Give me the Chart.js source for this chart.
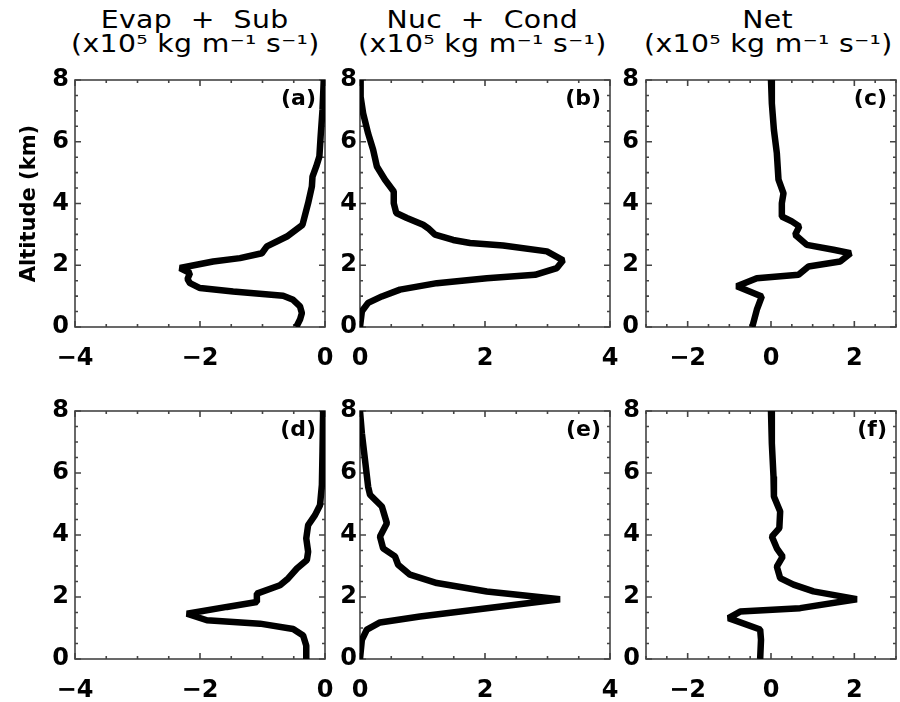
<!DOCTYPE html>
<html>
<head>
<meta charset="utf-8">
<script src="https://cdn.jsdelivr.net/npm/chart.js@4.4.0/dist/chart.umd.min.js"></script>
<style>
  html, body { margin: 0; padding: 0; background: #fff; }
  #fig { position: relative; width: 900px; height: 702px; overflow: hidden; background: #fff; }
  #fig canvas { position: absolute; left: 0; top: 0; }
  .ttl { position: absolute; top: 8px; width: 340px; text-align: center;
         font-family: "DejaVu Sans", sans-serif; font-size: 24px; line-height: 24px;
         color: #000; white-space: pre; }
  .ttl span { display: inline-block; transform: scaleX(1.18); letter-spacing: 0.3px; }
</style>
</head>
<body>
<div id="fig">
  <div class="ttl" style="left:25px"><span>Evap  +  Sub</span><br><span>(x10⁵ kg m⁻¹ s⁻¹)</span></div>
  <div class="ttl" style="left:312px"><span>Nuc  +  Cond</span><br><span>(x10⁵ kg m⁻¹ s⁻¹)</span></div>
  <div class="ttl" style="left:598px"><span>Net</span><br><span>(x10⁵ kg m⁻¹ s⁻¹)</span></div>
  <canvas id="pa" width="900" height="702"></canvas>
  <canvas id="pb" width="900" height="702"></canvas>
  <canvas id="pc" width="900" height="702"></canvas>
  <canvas id="pd" width="900" height="702"></canvas>
  <canvas id="pe" width="900" height="702"></canvas>
  <canvas id="pf" width="900" height="702"></canvas>
</div>
<script>
// Vertical profiles: altitude (km) and rate (x10^5 kg m^-1 s^-1)

// (a) evaporation + sublimation, case 1
const altA = [8, 7.03, 6.17, 5.52, 5.2, 4.87, 4.55, 4.01, 3.31, 2.93, 2.61, 2.39, 2.23, 2.12, 1.91, 1.75, 1.55, 1.42, 1.26, 1.15, 1.01, 0.88, 0.67, 0.45, 0.24, 0];
const evapSubA = [-0.02, -0.04, -0.07, -0.09, -0.14, -0.2, -0.21, -0.27, -0.36, -0.61, -0.93, -1.01, -1.36, -1.79, -2.32, -2.16, -2.2, -2.16, -2.0, -1.47, -0.67, -0.51, -0.4, -0.37, -0.4, -0.46];

// (b) nucleation + condensation, case 1
const altB = [8, 7.46, 6.92, 6.27, 5.74, 5.2, 4.77, 4.39, 4.01, 3.69, 3.53, 3.31, 3.2, 2.99, 2.82, 2.72, 2.64, 2.45, 2.16, 1.91, 1.69, 1.58, 1.42, 1.21, 0.99, 0.78, 0.51, 0];
const nucCondB = [0, 0.01, 0.05, 0.13, 0.21, 0.27, 0.4, 0.54, 0.54, 0.58, 0.75, 1.01, 1.09, 1.2, 1.49, 1.76, 2.29, 2.99, 3.25, 3.15, 2.8, 2.03, 1.23, 0.64, 0.35, 0.13, 0.03, 0];

// (c) net, case 1
const altC = [8, 7.25, 6.38, 5.63, 4.77, 4.33, 4.01, 3.58, 3.42, 3.26, 2.99, 2.66, 2.5, 2.39, 2.12, 1.96, 1.69, 1.58, 1.32, 0.99, 0.56, 0];
const netC = [0, 0.02, 0.07, 0.14, 0.18, 0.3, 0.26, 0.26, 0.5, 0.68, 0.58, 0.86, 1.5, 1.91, 1.66, 0.9, 0.66, -0.34, -0.82, -0.22, -0.34, -0.45];

// (d) evaporation + sublimation, case 2
const altD = [8, 6.68, 5.61, 4.96, 4.64, 4.32, 3.89, 3.46, 3.19, 2.92, 2.6, 2.38, 2.11, 1.84, 1.68, 1.46, 1.25, 1.14, 0.97, 0.76, 0.43, 0];
const evapSubD = [-0.03, -0.04, -0.05, -0.08, -0.16, -0.27, -0.3, -0.27, -0.29, -0.45, -0.59, -0.72, -1.09, -1.09, -1.57, -2.21, -1.89, -1.04, -0.51, -0.35, -0.3, -0.3];

// (e) nucleation + condensation, case 2
const altE = [8, 7.28, 6.42, 5.56, 5.3, 4.92, 4.38, 3.95, 3.57, 3.31, 3.04, 2.72, 2.45, 2.18, 1.93, 1.64, 1.37, 1.18, 0.95, 0.62, 0];
const nucCondE = [0, 0.03, 0.08, 0.13, 0.16, 0.35, 0.43, 0.32, 0.37, 0.56, 0.61, 0.8, 1.23, 2.03, 3.2, 2.03, 0.96, 0.32, 0.11, 0.03, 0];

// (f) net, case 2
const altF = [8, 6.96, 5.89, 5.24, 4.76, 4.22, 3.95, 3.57, 3.3, 2.98, 2.61, 2.4, 2.18, 1.93, 1.64, 1.53, 1.32, 0.95, 0.62, 0];
const netF = [0, 0.02, 0.06, 0.07, 0.22, 0.2, 0.02, 0.14, 0.28, 0.14, 0.22, 0.54, 1.02, 2.06, 0.7, -0.74, -1.02, -0.26, -0.24, -0.26];

// Axis ranges and labelled ticks
const altTicks = [0, 2, 4, 6, 8];
const evapTicks = [-4, -2, 0];
const condTicks = [0, 2, 4];
const netTicks = [-2, 0, 2];
const evapRange = [-4, 0];
const condRange = [0, 4];
const netRange = [-3, 3];
const altRange = [0, 8];
const panelLabels = ['(a)', '(b)', '(c)', '(d)', '(e)', '(f)'];
const altTitle = 'Altitude (km)';

const TICK_FONT = { family: '"DejaVu Sans", sans-serif', size: 24, weight: 'bold' };
const W = 900, H = 702;

// Box with inward ticks on all four sides (minor every 0.5, major at labelled values)
const frameTicks = {
  id: 'frameTicks',
  beforeDatasetsDraw(chart, args, opts) {
    const { ctx, chartArea: a, scales: { x, y } } = chart;
    const isMajor = (v, list) => list.some(t => Math.abs(t - v) < 1e-6);
    ctx.save();
    ctx.strokeStyle = opts.color;
    ctx.lineWidth = opts.width;
    ctx.strokeRect(a.left, a.top, a.right - a.left, a.bottom - a.top);
    ctx.beginPath();
    for (let v = x.min; v <= x.max + 1e-9; v += opts.step) {
      const px = x.getPixelForValue(v);
      const len = isMajor(v, opts.xMajor) ? opts.major : opts.minor;
      ctx.moveTo(px, a.bottom); ctx.lineTo(px, a.bottom - len);
      ctx.moveTo(px, a.top); ctx.lineTo(px, a.top + len);
    }
    for (let v = y.min; v <= y.max + 1e-9; v += opts.step) {
      const py = y.getPixelForValue(v);
      const len = isMajor(v, opts.yMajor) ? opts.major : opts.minor;
      ctx.moveTo(a.left, py); ctx.lineTo(a.left + len, py);
      ctx.moveTo(a.right, py); ctx.lineTo(a.right - len, py);
    }
    ctx.stroke();
    ctx.restore();
  }
};

// Panel letter in the upper right corner
const panelTag = {
  id: 'panelTag',
  afterDraw(chart, args, opts) {
    const { ctx, chartArea: a } = chart;
    ctx.save();
    ctx.font = 'bold 22px "DejaVu Sans", sans-serif';
    ctx.fillStyle = '#000';
    ctx.textAlign = 'right';
    ctx.textBaseline = 'middle';
    ctx.fillText(opts.text, a.right - 9, a.top + 19);
    ctx.restore();
  }
};

function makePanel(id, alt, vals, range, ticks, rect, tag, labelPad, withTitle) {
  const yW = withTitle ? rect.L : 60;
  const xH = 40;
  const points = alt.map((h, i) => ({ x: vals[i], y: h }));
  return new Chart(document.getElementById(id), {
    type: 'scatter',
    data: {
      datasets: [{
        data: points,
        showLine: true,
        borderColor: '#000',
        borderWidth: 6.5,
        pointRadius: 0,
        tension: 0,
        borderJoinStyle: 'bevel'
      }]
    },
    options: {
      responsive: false,
      animation: false,
      events: [],
      layout: {
        padding: { left: rect.L - yW, top: rect.T, right: W - rect.R, bottom: H - rect.B - xH }
      },
      plugins: {
        legend: { display: false },
        tooltip: { enabled: false },
        frameTicks: { color: '#444', width: 1.6, step: 0.5, major: 6, minor: 3, xMajor: ticks, yMajor: altTicks },
        panelTag: { text: tag }
      },
      scales: {
        x: {
          type: 'linear',
          min: range[0], max: range[1],
          grid: { display: false, drawTicks: false },
          border: { display: false },
          afterBuildTicks: s => { s.ticks = ticks.map(v => ({ value: v })); },
          afterFit: s => { s.height = xH; },
          ticks: {
            font: TICK_FONT, color: '#000', padding: 17, maxRotation: 0,
            callback: v => (v < 0 ? '\u2212' + Math.abs(v) : String(v))
          }
        },
        y: {
          type: 'linear',
          min: altRange[0], max: altRange[1],
          grid: { display: false, drawTicks: false },
          border: { display: false },
          afterBuildTicks: s => { s.ticks = altTicks.map(v => ({ value: v })); },
          afterFit: s => { s.width = yW; },
          title: {
            display: withTitle,
            text: altTitle,
            color: '#000',
            font: { family: '"DejaVu Sans", sans-serif', size: 21, weight: 'bold' },
            padding: { top: 17, bottom: 0 }
          },
          ticks: { font: TICK_FONT, color: '#000', padding: labelPad }
        }
      }
    },
    plugins: [frameTicks, panelTag]
  });
}

const row1 = { T: 80, B: 327 }, row2 = { T: 411, B: 659 };
const colA = { L: 75, R: 325 }, colB = { L: 360, R: 610 }, colC = { L: 646, R: 896 };

makePanel('pa', altA, evapSubA, evapRange, evapTicks, { ...colA, ...row1 }, panelLabels[0], 6, true);
makePanel('pb', altB, nucCondB, condRange, condTicks, { ...colB, ...row1 }, panelLabels[1], 3, false);
makePanel('pc', altC, netC, netRange, netTicks, { ...colC, ...row1 }, panelLabels[2], 7, false);
makePanel('pd', altD, evapSubD, evapRange, evapTicks, { ...colA, ...row2 }, panelLabels[3], 6, false);
makePanel('pe', altE, nucCondE, condRange, condTicks, { ...colB, ...row2 }, panelLabels[4], 3, false);
makePanel('pf', altF, netF, netRange, netTicks, { ...colC, ...row2 }, panelLabels[5], 6, false);
</script>
</body>
</html>
